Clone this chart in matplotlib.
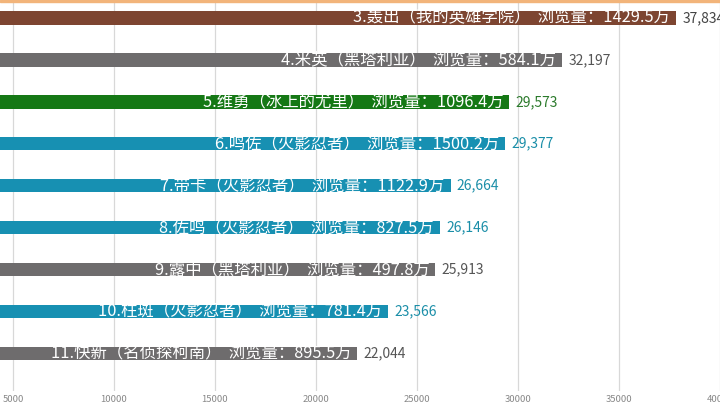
import matplotlib
matplotlib.use("Agg")
import matplotlib.pyplot as plt

plt.rcParams['font.family'] = ['Noto Sans CJK SC', 'DejaVu Sans']

# ranks shown in this frame (bar chart race snapshot)
ranks = [3, 4, 5, 6, 7, 8, 9, 10, 11]
names = ["轰出（我的英雄学院）", "米英（黑塔利亚）", "维勇（冰上的尤里）",
         "鸣佐（火影忍者）", "带卡（火影忍者）", "佐鸣（火影忍者）",
         "露中（黑塔利亚）", "柱斑（火影忍者）", "快新（名侦探柯南）"]
views = ["1429.5", "584.1", "1096.4", "1500.2", "1122.9", "827.5",
         "497.8", "781.4", "895.5"]
values = [37834, 32197, 29573, 29377, 26664, 26146, 25913, 23566, 22044]
fandom = ["mha", "aph", "yoi", "naruto", "naruto", "naruto", "aph", "naruto", "conan"]

bar_colors = {"mha": "#7d4531", "aph": "#6e6c6d", "yoi": "#157815",
              "naruto": "#1790b2", "conan": "#6e6c6d"}
val_colors = {"mha": "#444444", "aph": "#555555", "yoi": "#2b7a2b",
              "naruto": "#1a8ea8", "conan": "#555555"}

xticks = [5000, 10000, 15000, 20000, 25000, 30000, 35000, 40000]

fig = plt.figure(figsize=(7.2, 4.05), dpi=100)
ax = fig.add_axes([0, 14 / 405, 1, 1 - 14 / 405])

ax.set_xlim(4360, 39828)
ax.set_ylim(11.90, 2.57)

# grid lines
for t in xticks:
    ax.axvline(t, color="#d8d8d8", lw=0.9, zorder=0)

# sliver of the bar above (rank 2, in motion)
ax.axhspan(2.57, 2.62, color="#f2b47a", zorder=1)

for r, n, v, val, f in zip(ranks, names, views, values, fandom):
    ax.barh(r, val, height=0.32, color=bar_colors[f], zorder=2)
    ax.text(val - 300, r, f"{r}.{n}  浏览量：{v}万", ha="right", va="center",
            color="white", fontsize=11.8, zorder=3)
    ax.text(val + 300, r, f"{val:,}", ha="left", va="center",
            color=val_colors[f], fontsize=10, zorder=3)

ax.set_xticks(xticks)
ax.set_xticklabels([str(t) for t in xticks], fontsize=6.8, color="#888888")
ax.tick_params(axis="x", length=0, pad=3)
ax.set_yticks([])
for s in ax.spines.values():
    s.set_visible(False)

fig.savefig("out.png", dpi=100, facecolor="white")
